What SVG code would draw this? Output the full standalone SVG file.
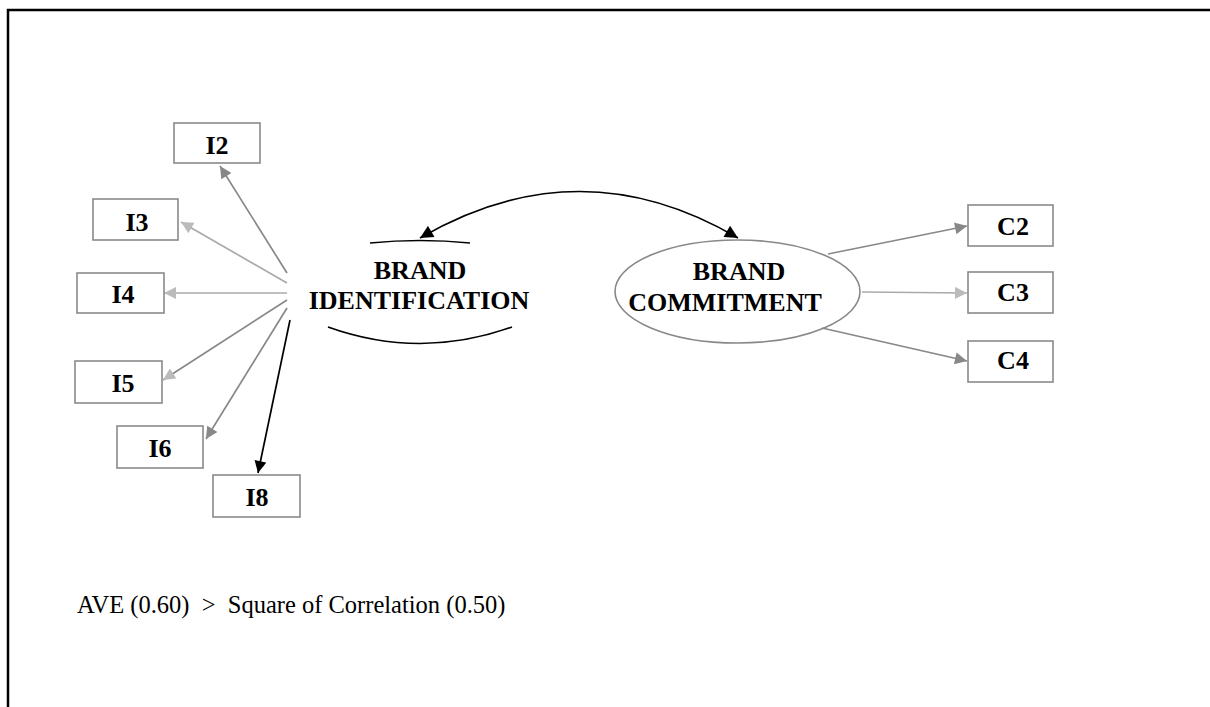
<svg xmlns="http://www.w3.org/2000/svg" width="1210" height="707" viewBox="0 0 1210 707">
<defs>
<style>
.box{fill:#fff;stroke:#8a8a8a;stroke-width:1.6}
.lbl{font-family:"Liberation Serif","Times New Roman",serif;font-weight:bold;font-size:26px;fill:#000;text-anchor:middle}
.note{font-family:"Liberation Serif","Times New Roman",serif;font-size:24.5px;fill:#000}
.ln{fill:none;stroke:#888;stroke-width:1.7}
.lt{fill:none;stroke:#aaa;stroke-width:1.7}
.lk{fill:none;stroke:#000;stroke-width:1.7}
</style>
<marker id="ag" viewBox="0 0 10 10" refX="10" refY="5" markerWidth="13" markerHeight="12" markerUnits="userSpaceOnUse" orient="auto"><path d="M0,0 L10,5 L0,10 z" fill="#888"/></marker>
<marker id="al" viewBox="0 0 10 10" refX="10" refY="5" markerWidth="13" markerHeight="12" markerUnits="userSpaceOnUse" orient="auto"><path d="M0,0 L10,5 L0,10 z" fill="#bbb"/></marker>
<marker id="ak" viewBox="0 0 10 10" refX="10" refY="5" markerWidth="13" markerHeight="12" markerUnits="userSpaceOnUse" orient="auto"><path d="M0,0 L10,5 L0,10 z" fill="#000"/></marker>
<marker id="ak2" viewBox="0 0 10 10" refX="10" refY="5" markerWidth="15" markerHeight="13" markerUnits="userSpaceOnUse" orient="auto-start-reverse"><path d="M0,0 L10,5 L0,10 z" fill="#000"/></marker>
</defs>
<rect width="1210" height="707" fill="#fff"/>
<path d="M8,707 V10 H1210" fill="none" stroke="#000" stroke-width="2.5"/>

<g id="connectors">
<line class="ln" x1="287" y1="273" x2="220" y2="166" marker-end="url(#ag)"/>
<line class="lt" x1="287" y1="283" x2="181" y2="222" marker-end="url(#al)"/>
<line class="lt" x1="287" y1="293" x2="164" y2="293" marker-end="url(#al)"/>
<line class="ln" x1="287" y1="300" x2="163" y2="380" marker-end="url(#al)"/>
<line class="ln" x1="287" y1="308" x2="206" y2="439" marker-end="url(#ag)"/>
<line class="lk" x1="290" y1="320" x2="258" y2="473" marker-end="url(#ak)"/>
<path class="lk" d="M420,238 Q580,145 738,238" marker-start="url(#ak2)" marker-end="url(#ak2)"/>
<line class="ln" x1="828" y1="254" x2="967" y2="226" marker-end="url(#ag)"/>
<line class="lt" x1="862" y1="292" x2="967" y2="293" marker-end="url(#al)"/>
<line class="ln" x1="822" y1="328" x2="967" y2="361" marker-end="url(#ag)"/>
</g>

<g id="brand-identification">
<path class="lk" d="M370,243 Q420,238 470,243"/>
<path class="lk" d="M328,327 Q420,360 512,327"/>
<text class="lbl" x="420" y="279">BRAND</text>
<text class="lbl" x="419" y="309">IDENTIFICATION</text>
</g>

<g id="brand-commitment">
<ellipse cx="737.5" cy="291.5" rx="122.5" ry="51.5" fill="none" stroke="#888" stroke-width="1.6"/>
<text class="lbl" x="739" y="280">BRAND</text>
<text class="lbl" x="725" y="311">COMMITMENT</text>
</g>

<g id="I2"><rect class="box" x="174" y="123" width="86" height="40"/><text class="lbl" x="217" y="154">I2</text></g>
<g id="I3"><rect class="box" x="93" y="199" width="85" height="41"/><text class="lbl" x="137" y="231">I3</text></g>
<g id="I4"><rect class="box" x="77" y="273" width="87" height="40"/><text class="lbl" x="123" y="303">I4</text></g>
<g id="I5"><rect class="box" x="75" y="361" width="87" height="42"/><text class="lbl" x="123" y="392">I5</text></g>
<g id="I6"><rect class="box" x="117" y="426" width="86" height="42"/><text class="lbl" x="160" y="457">I6</text></g>
<g id="I8"><rect class="box" x="213" y="475" width="87" height="42"/><text class="lbl" x="257" y="506">I8</text></g>
<g id="C2"><rect class="box" x="968" y="205" width="85" height="41"/><text class="lbl" x="1013" y="235">C2</text></g>
<g id="C3"><rect class="box" x="968" y="272" width="85" height="41"/><text class="lbl" x="1013" y="301">C3</text></g>
<g id="C4"><rect class="box" x="968" y="341" width="85" height="41"/><text class="lbl" x="1013" y="369">C4</text></g>

<text class="note" x="77" y="613" xml:space="preserve">AVE (0.60)  &gt;  Square of Correlation (0.50)</text>
</svg>
